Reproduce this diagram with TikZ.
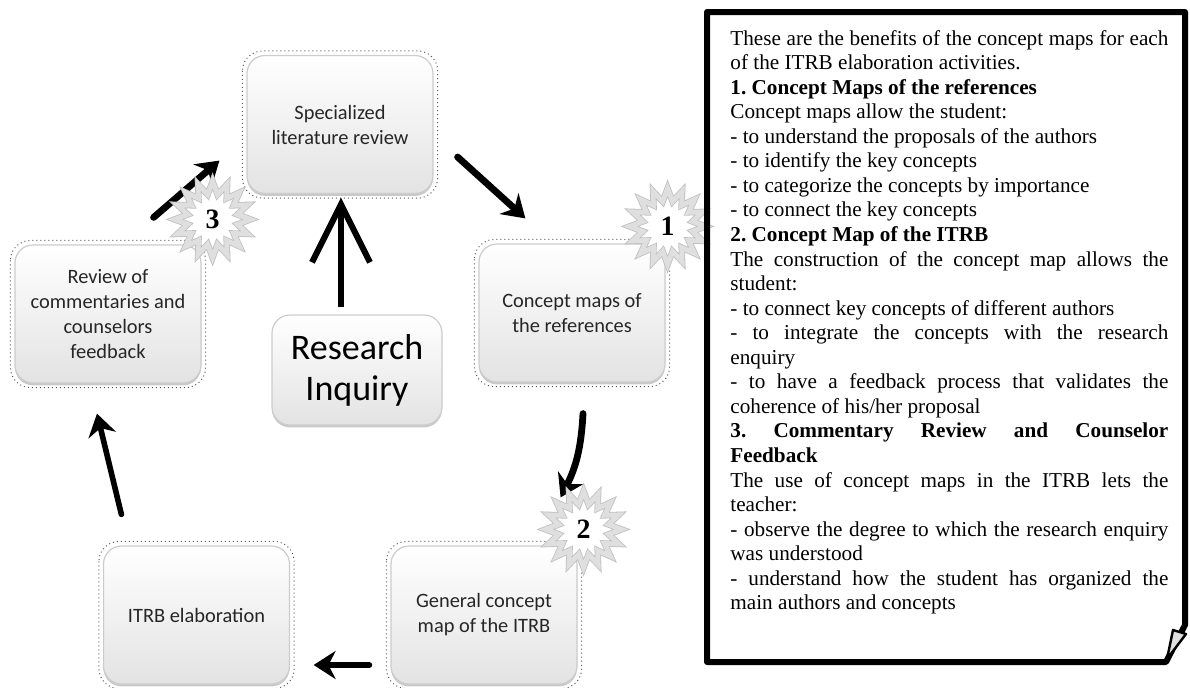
\documentclass[tikz,border=0pt]{standalone}
\usepackage{fontspec}
\setmainfont{Liberation Serif}
\newfontfamily\boxfont{Carlito}
\usetikzlibrary{arrows.meta,shapes.geometric,shadows}

\newcommand{\fullline}[1]{\makebox[219pt][s]{#1}}

\begin{document}
\begin{tikzpicture}[x=0.5pt,y=-0.5pt,
    stage/.style={rectangle,rounded corners=9pt,top color=white,bottom color=gray!22,
        draw=gray!40,line width=0.6pt,
        drop shadow={shadow xshift=0pt,shadow yshift=-1.2pt,fill=gray!60,opacity=0.7},
        font=\boxfont\fontsize{10.2}{12.5}\selectfont,text=black!85,align=center,
        minimum width=93pt,minimum height=69pt},
    badge/.style={star,star points=16,star point ratio=1.5,minimum size=38pt,inner sep=0pt,
        fill=white,draw=gray!50,double=gray!25,double distance=2.4pt,
        font=\fontsize{14}{14}\selectfont\bfseries},
    flow/.style={-{Stealth[length=11pt,width=14pt]},line width=3.4pt,line cap=round},
    selframe/.style={dash pattern=on 0.5pt off 1.5pt,black!65,line width=0.5pt,rounded corners=10pt}]

\useasboundingbox (0,0) rectangle (1190,687);

% cycle of activities
\node[stage] (spec) at (340,124.5) {Specialized\\literature review};
\node[stage] (review) at (108,314) {Review of\\commentaries and\\counselors\\feedback};
\node[stage] (concept) at (572,313) {Concept maps of\\the references};
\node[stage] (itrb) at (196.5,615) {ITRB elaboration};
\node[stage] (general) at (484,615) {General concept\\map of the ITRB};
\node[stage,minimum width=85pt,minimum height=55pt,text=black,
      font=\boxfont\fontsize{18}{20.5}\selectfont] (inquiry) at (357,370) {Research\\Inquiry};

\foreach \n in {spec,review,concept,itrb,general}
    \draw[selframe] ([shift={(-4,-4)}]\n.north west) rectangle ([shift={(4,4)}]\n.south east);

\draw[-{Straight Barb[length=29pt,width=29pt]},line width=3pt]
    ([shift={(-16,-7)}]inquiry.north) -- ([shift={(1,3.5)}]spec.south);
\draw[flow] ([shift={(24,32.5)}]spec.east) -- ([shift={(47,-25)}]concept.north west);
\draw[flow] ([shift={(11,31)}]concept.south) to[bend left=12] ([shift={(-17,-48)}]general.north east);
\draw[flow,line width=2.8pt] ([shift={(-21,50)}]general.west) -- ([shift={(23.5,50)}]itrb.east);
\draw[flow,line width=2.8pt] ([shift={(18.5,-31)}]itrb.north west) -- ([shift={(-11,30)}]review.south);
\draw[flow] ([shift={(-48,-27)}]review.north east) -- ([shift={(-27,-33.5)}]spec.south west);

\node[badge] (b1) at ([shift={(2,-17)}]concept.north east) {1};
\node[badge] (b2) at ([shift={(6,-16)}]general.north east) {2};
\node[badge] (b3) at ([shift={(11,-25)}]review.north east) {3};

% page with the benefits
\draw[line width=3pt,line join=round] (707,12) -- (1185,12) -- (1185,625) -- (1166,662) -- (707,662) -- cycle;
\filldraw[fill=gray!25,draw=black,line width=1.2pt,line join=round] (1167,659) -- (1173,630) -- (1186,634) -- cycle;

\node[anchor=base west,text width=219pt,inner sep=0pt,align=justify,
      font=\fontsize{10.6}{12.28}\selectfont\frenchspacing] (notes) at (730,45) {%
\spaceskip=0pt \xspaceskip=0pt
\fullline{These are the benefits of the concept maps for each}\\
of the ITRB elaboration activities.\\
\textbf{1. Concept Maps of the references}\\
Concept maps allow the student:\\
- to understand the proposals of the authors\\
- to identify the key concepts\\
- to categorize the concepts by importance\\
- to connect the key concepts\\
\textbf{2. Concept Map of the ITRB}\\
\fullline{The construction of the concept map allows the}\\
student:\\
- to connect key concepts of different authors\\
\fullline{- to integrate the concepts with the research}\\
enquiry\\
\fullline{- to have a feedback process that validates the}\\
coherence of his/her proposal\\
\fullline{\bfseries 3. Commentary Review and Counselor}\\
\textbf{Feedback}\\
\fullline{The use of concept maps in the ITRB lets the}\\
teacher:\\
\fullline{- observe the degree to which the research enquiry}\\
was understood\\
\fullline{- understand how the student has organized the}\\
main authors and concepts};
\end{tikzpicture}
\end{document}
